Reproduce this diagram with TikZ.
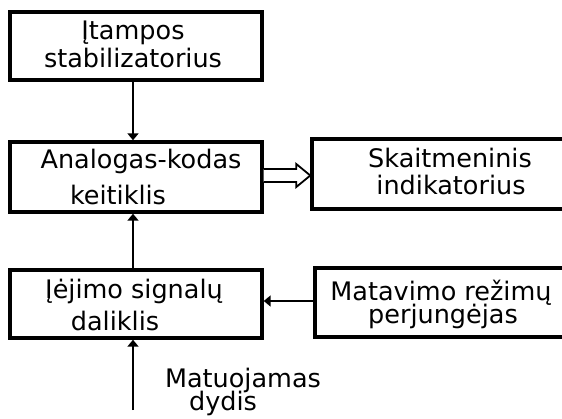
\documentclass[tikz,border=0pt]{standalone}
\usepackage{fontspec}
\setmainfont{DejaVu Sans}
\usetikzlibrary{arrows.meta,calc}
\begin{document}
\begin{tikzpicture}[x=1pt,y=-1pt,
  box/.style={draw=black,line width=3.4pt,rectangle,inner sep=0pt},
  txt/.style={anchor=base,inner sep=0pt,font=\fontsize{25.5}{28}\selectfont},
  conn/.style={draw=black,line width=2pt,-{Triangle[length=7pt,width=11pt]}},
  hollow/.style={draw=black,line width=1.8pt,fill=white,line join=miter}]
\useasboundingbox (0,0) rectangle (562,418);
\fill[white] (0,0) rectangle (562,418);
\clip (0,0) rectangle (562,418);
% boxes
\node[box,minimum width=252pt,minimum height=68pt] (b1) at (136,46) {};
\node[box,minimum width=252pt,minimum height=70pt] (b2) at (136,177) {};
\node[box,minimum width=276pt,minimum height=70pt] (b3) at (450,174) {};
\node[box,minimum width=252pt,minimum height=68pt] (b4) at (136,304) {};
\node[box,minimum width=254pt,minimum height=69pt] (b5) at (442,302.5) {};
% texts
\node[txt] (t1a) at (133,39) {Įtampos};
\node[txt] (t1b) at (133,67) {stabilizatorius};
\node[txt] (t2a) at (141,168) {Analogas-kodas};
\node[txt] (t2b) at (118,204) {keitiklis};
\node[txt] (t3a) at (450,167) {Skaitmeninis};
\node[txt] (t3b) at (451,194) {indikatorius};
\node[txt] (t4a) at (134,298) {Įėjimo signalų};
\node[txt] (t4b) at (115,330) {daliklis};
\node[txt] (t5a) at (441,300) {Matavimo režimų};
\node[txt] (t5b) at (443,323) {perjungėjas};
\node[txt] (t6a) at (243,387) {Matuojamas};
\node[txt] (t6b) at (223,410) {dydis};
% helper coordinates
\coordinate (cx) at (133,0);
\coordinate (hy) at (0,301);
\coordinate (in) at (133,410);
% connectors
\draw[conn] (b1.south -| cx) -- (b2.north -| cx);
\draw[conn] (b4.north -| cx) -- (b2.south -| cx);
\draw[conn] (in) -- (b4.south -| cx);
\draw[conn] (b5.west |- hy) -- (b4.east |- hy);
% hollow double arrow
\draw[hollow] ($(b2.east)+(0,-8)$) -- ($(b3.west)+(-14,-5)$) -- ($(b3.west)+(-14,-10)$)
  -- ($(b3.west)+(0,1.5)$) -- ($(b3.west)+(-14,13)$) -- ($(b3.west)+(-14,8)$) -- ($(b2.east)+(0,5)$);
\end{tikzpicture}
\end{document}
